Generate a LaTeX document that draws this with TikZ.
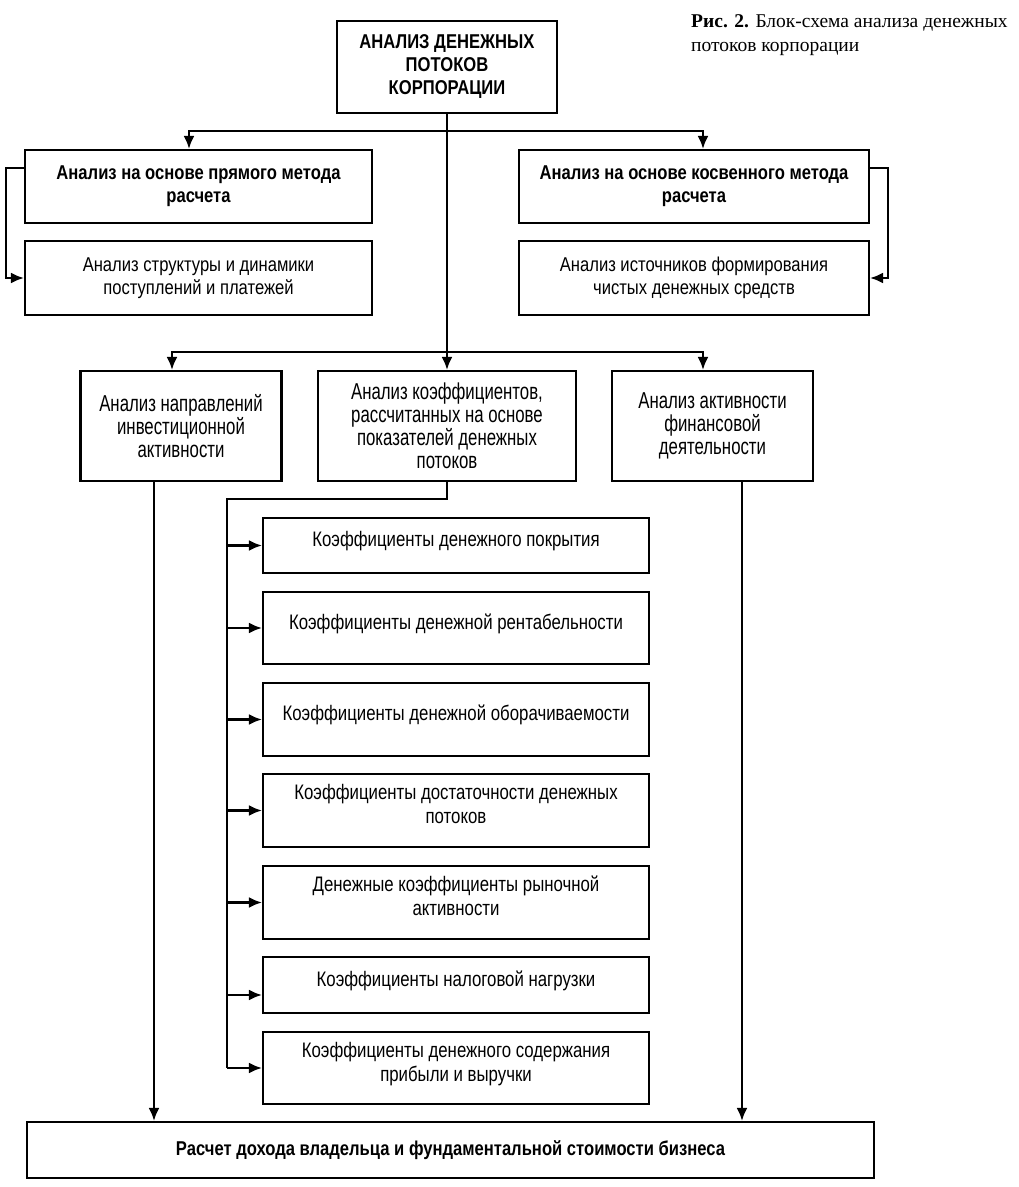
\documentclass[tikz,border=0pt]{standalone}
\usepackage{fontspec}
\setmainfont{Liberation Sans}[FakeStretch=0.83]
\newfontfamily\subfont{Liberation Sans}[FakeStretch=0.80]
\newfontfamily\narrowfont{Liberation Sans}[FakeStretch=0.73]
\newfontfamily\capfont{Liberation Serif}
\usetikzlibrary{arrows.meta}

\begin{document}
\begin{tikzpicture}
[every node/.style={inner sep=0pt},
 box/.style={rectangle, line width=2.2pt, draw=black, align=center, font=\fontsize{20}{23}\selectfont},
 boldbox/.style={box, font=\bfseries\fontsize{20}{23}\selectfont},
 midbox/.style={box, minimum width=201pt, minimum height=110pt, font=\narrowfont\fontsize{23}{23}\selectfont},
 subbox/.style={box, minimum width=386pt, text depth=13pt, font=\subfont\fontsize{21}{24}\selectfont},
 line/.style={line width=2.2pt, color=black},
 conn/.style={line, -{Latex[length=13pt, width=11pt]}}]
\useasboundingbox (0pt, 0pt) rectangle (1019pt, -1187pt);
\node (1) [boldbox, minimum width=220pt, minimum height=92pt] at (447.0pt, -67.0pt) {АНАЛИЗ ДЕНЕЖНЫХ\\ПОТОКОВ\\КОРПОРАЦИИ};
\node (2) [boldbox, minimum width=347pt, minimum height=73pt] at (198.5pt, -186.5pt) {Анализ на основе прямого метода\\расчета};
\node (3) [box, minimum width=347pt, minimum height=74pt] at (198.5pt, -278.0pt) {Анализ структуры и динамики\\поступлений и платежей};
\node (4) [boldbox, minimum width=350pt, minimum height=73pt] at (694.0pt, -186.5pt) {Анализ на основе косвенного метода\\расчета};
\node (5) [box, minimum width=350pt, minimum height=74pt] at (694.0pt, -278.0pt) {Анализ источников формирования\\чистых денежных средств};
\node (6) [midbox] at (181.0pt, -426.0pt) {Анализ направлений\\инвестиционной\\активности};
\node (7) [midbox, minimum width=258pt] at (447.0pt, -426.0pt) {Анализ коэффициентов,\\рассчитанных на основе\\показателей денежных\\потоков};
\node (8) [midbox] at (712.5pt, -426.0pt) {Анализ активности\\финансовой\\деятельности};
\node (9) [subbox, minimum height=55pt] at (456.0pt, -545.5pt) {Коэффициенты денежного покрытия};
\node (10) [subbox, minimum height=72pt] at (456.0pt, -628.0pt) {Коэффициенты денежной рентабельности};
\node (11) [subbox, minimum height=73pt] at (456.0pt, -719.5pt) {Коэффициенты денежной оборачиваемости};
\node (12) [subbox, minimum height=73pt] at (456.0pt, -810.5pt) {Коэффициенты достаточности денежных\\потоков};
\node (13) [subbox, minimum height=73pt] at (456.0pt, -902.5pt) {Денежные коэффициенты рыночной\\активности};
\node (14) [subbox, minimum height=56pt] at (456.0pt, -985.0pt) {Коэффициенты налоговой нагрузки};
\node (15) [subbox, minimum height=72pt] at (456.0pt, -1068.0pt) {Коэффициенты денежного содержания\\прибыли и выручки};
\node (16) [boldbox, minimum width=847pt, minimum height=56pt] at (450.5pt, -1150.0pt) {Расчет дохода владельца и фундаментальной стоимости бизнеса};
\node (17) [anchor=north west, align=left, font=\capfont\fontsize{19.5}{24}\selectfont] at (691.0pt, -14.0pt) {\textbf{Рис. 2.} Блок-схема анализа денежных\\потоков корпорации};
\coordinate (a) at (447.0pt, -131.0pt);
\coordinate (b) at (447.0pt, -352.0pt);
\coordinate (c) at (227.0pt, -499.0pt);
\draw [line] (1) -- (b);
\draw [conn] (a) -| ([xshift=-9.5pt]2.north);
\draw [conn] (a) -| ([xshift=9pt]4.north);
\draw [conn] ([yshift=18.5pt]2.west) -- ++(-18pt, 0pt) |- (3.west);
\draw [conn] ([yshift=18.5pt]4.east) -- ++(18pt, 0pt) |- (5.east);
\draw [conn] (b) -| ([xshift=-9pt]6.north);
\draw [conn] (b) -- (7);
\draw [conn] (b) -| ([xshift=-9.5pt]8.north);
\draw [line] (7) |- (c) -- (c |- 15.west);
\draw [conn] (c |- 9.west) -- (9);
\draw [conn] (c |- 10.west) -- (10);
\draw [conn] (c |- 11.west) -- (11);
\draw [conn] (c |- 12.west) -- (12);
\draw [conn] (c |- 13.west) -- (13);
\draw [conn] ([yshift=-10pt]c |- 14.west) -- ([yshift=-10pt]14.west);
\draw [conn] (c |- 15.west) -- (15);
\draw [conn] ([xshift=-27pt]6.south) -- ([xshift=-27pt]6.south |- 16.north);
\draw [conn] ([xshift=29.5pt]8.south) -- ([xshift=29.5pt]8.south |- 16.north);
\end{tikzpicture}
\end{document}
